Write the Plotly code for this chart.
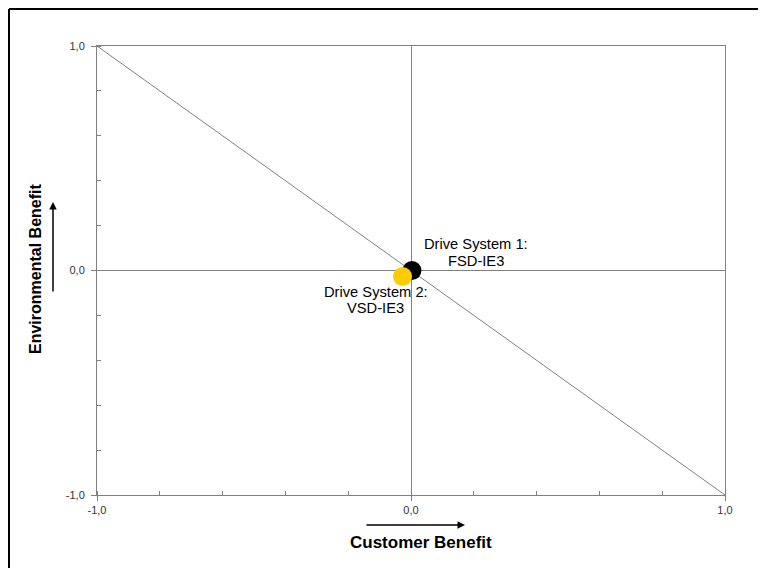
import plotly.graph_objects as go

# data
diag_x = [-1.0, 1.0]
diag_y = [1.0, -1.0]

names = ["Drive System 1:", "Drive System 2:"]
kinds = ["FSD-IE3", "VSD-IE3"]
cust = [0.003, -0.027]
env = [0.0, -0.027]
colours = ["#000000", "#FFCC00"]

tick_vals = [-1.0, 0.0, 1.0]
tick_text = ["-1,0", "0,0", "1,0"]

font = "Arial, Liberation Sans, sans-serif"

# the page body adds 8px, so the figure is 8px smaller than the window
W, H = 758, 560
L, T, R, B = 89, 38, 41, 73
PW, PH = W - L - R, H - T - B


def px(x):
    return (x - 8 - L) / PW


def py(y):
    return (H - B - (y - 8)) / PH


fig = go.Figure()
fig.add_trace(go.Scatter(x=diag_x, y=diag_y, mode="lines",
                         line=dict(color="#808080", width=1), hoverinfo="skip"))
fig.add_trace(go.Scatter(x=cust[:1], y=env[:1], mode="markers",
                         marker=dict(color=colours[0], size=19)))
fig.add_trace(go.Scatter(x=cust[1:], y=env[1:], mode="markers",
                         marker=dict(color=colours[1], size=19)))

axis = dict(range=[-1, 1], tickvals=tick_vals, ticktext=tick_text,
            showgrid=False, zeroline=True, zerolinecolor="#808080", zerolinewidth=1,
            showline=True, linecolor="#808080", linewidth=1, mirror=True,
            ticks="outside", ticklen=5, tickcolor="#808080",
            minor=dict(dtick=0.2, ticks="inside", ticklen=4, tickcolor="#808080"),
            tickfont=dict(family=font, size=11, color="#333333"), fixedrange=True)

fig.update_layout(
    width=W, height=H,
    margin=dict(l=L, r=R, t=T, b=B),
    paper_bgcolor="white", plot_bgcolor="white",
    showlegend=False,
    xaxis=axis, yaxis=axis,
)
fig.update_yaxes(ticklabelstandoff=4)
fig.update_xaxes(ticklabelstandoff=0)

# point labels, one annotation per line
lab = dict(showarrow=False, xanchor="center", yanchor="middle",
           font=dict(family=font, size=14.7, color="black"))
fig.add_annotation(x=cust[0], y=env[0], text=names[0], xshift=64, yshift=27, **lab)
fig.add_annotation(x=cust[0], y=env[0], text=kinds[0], xshift=64, yshift=10, **lab)
fig.add_annotation(x=cust[1], y=env[1], text=names[1], xshift=-27, yshift=-15, **lab)
fig.add_annotation(x=cust[1], y=env[1], text=kinds[1], xshift=-27, yshift=-31, **lab)

# axis titles with arrows
fig.add_annotation(x=px(421), y=py(542), xref="paper", yref="paper",
                   xanchor="center", yanchor="middle",
                   text="<b>Customer Benefit</b>", showarrow=False,
                   font=dict(family=font, size=17, color="black"))
fig.add_annotation(x=px(465), y=py(525), xref="paper", yref="paper",
                   ax=-100, ay=0, text="", showarrow=True, arrowhead=2,
                   arrowsize=1, arrowwidth=1.5, arrowcolor="black")
fig.add_annotation(x=px(35), y=py(269), xref="paper", yref="paper",
                   xanchor="center", yanchor="middle",
                   text="<b>Environmental Benefit</b>", showarrow=False, textangle=-90,
                   font=dict(family=font, size=16, color="black"))
fig.add_annotation(x=px(53), y=py(202), xref="paper", yref="paper",
                   ax=0, ay=91, text="", showarrow=True, arrowhead=2,
                   arrowsize=1, arrowwidth=1.5, arrowcolor="black")

# outer frame (only top and left edges show)
fig.add_shape(type="line", xref="paper", yref="paper",
              x0=px(9), x1=px(800), y0=py(9), y1=py(9),
              line=dict(color="black", width=2))
fig.add_shape(type="line", xref="paper", yref="paper",
              x0=px(9), x1=px(9), y0=py(9), y1=py(600),
              line=dict(color="black", width=2))

fig.write_html("out.html")
